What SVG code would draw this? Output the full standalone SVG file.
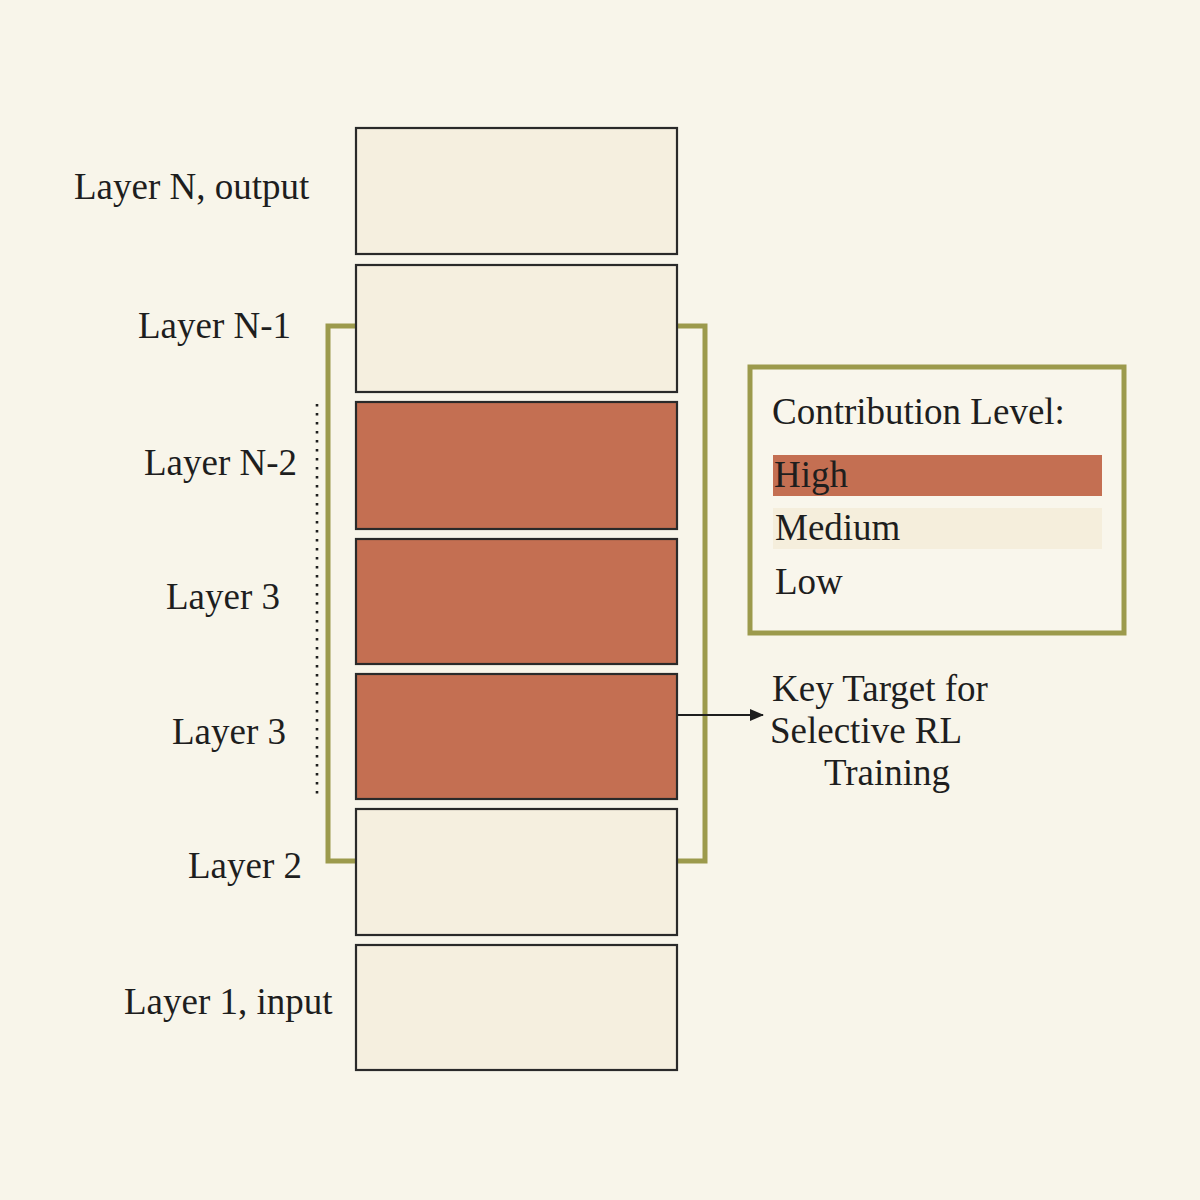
<svg xmlns="http://www.w3.org/2000/svg" width="1200" height="1200" viewBox="0 0 1200 1200">
<defs>
<style>
.bg{fill:#f8f5ea}
.box{stroke:#2a2a2a;stroke-width:2.2}
.low{fill:#f5efdf}
.high{fill:#c46f52}
.t{font-family:"Liberation Serif","DejaVu Serif",serif;font-size:37px;fill:#1e1e1e}
.olive{fill:none;stroke:#9c9a4c;stroke-width:5}
</style>
<marker id="ah" viewBox="0 0 14 12" refX="13" refY="6" markerWidth="14" markerHeight="12" markerUnits="userSpaceOnUse" orient="auto">
<path d="M0,0 L14,6 L0,12 z" fill="#1e1e1e"/>
</marker>
</defs>
<rect class="bg" x="0" y="0" width="1200" height="1200"/>

<g id="connectors">
<path class="olive" d="M356,326 H328 V861 H356"/>
<path class="olive" d="M677,326 H705 V861 H677"/>
<line x1="317" y1="404" x2="317" y2="797" stroke="#1e1e1e" stroke-width="2.6" stroke-dasharray="2.6,6.4"/>
<line x1="677" y1="715" x2="763" y2="715" stroke="#1e1e1e" stroke-width="2" marker-end="url(#ah)"/>
</g>

<g id="layerN">
<rect class="box low" x="356" y="128" width="321" height="126"/>
<text class="t" x="74" y="199">Layer N, output</text>
</g>
<g id="layerN1">
<rect class="box low" x="356" y="265" width="321" height="127"/>
<text class="t" x="138" y="338">Layer N-1</text>
</g>
<g id="layerN2">
<rect class="box high" x="356" y="402" width="321" height="127"/>
<text class="t" x="144" y="475">Layer N-2</text>
</g>
<g id="layer3a">
<rect class="box high" x="356" y="539" width="321" height="125"/>
<text class="t" x="166" y="609">Layer 3</text>
</g>
<g id="layer3b">
<rect class="box high" x="356" y="674" width="321" height="125"/>
<text class="t" x="172" y="744">Layer 3</text>
</g>
<g id="layer2">
<rect class="box low" x="356" y="809" width="321" height="126"/>
<text class="t" x="188" y="878">Layer 2</text>
</g>
<g id="layer1">
<rect class="box low" x="356" y="945" width="321" height="125"/>
<text class="t" x="124" y="1014">Layer 1, input</text>
</g>

<g id="legend">
<rect x="750" y="367" width="374" height="266" fill="#f9f6ec" stroke="#9c9a4c" stroke-width="5"/>
<text class="t" x="772" y="424">Contribution Level:</text>
<rect x="773" y="455" width="329" height="41" fill="#c46f52"/>
<text class="t" x="774" y="487">High</text>
<rect x="773" y="508" width="329" height="41" fill="#f5eedc"/>
<text class="t" x="775" y="540">Medium</text>
<text class="t" x="775" y="594">Low</text>
</g>

<g id="keytarget">
<text class="t" x="772" y="701">Key Target for</text>
<text class="t" x="770" y="743">Selective RL</text>
<text class="t" x="824" y="785">Training</text>
</g>
</svg>
